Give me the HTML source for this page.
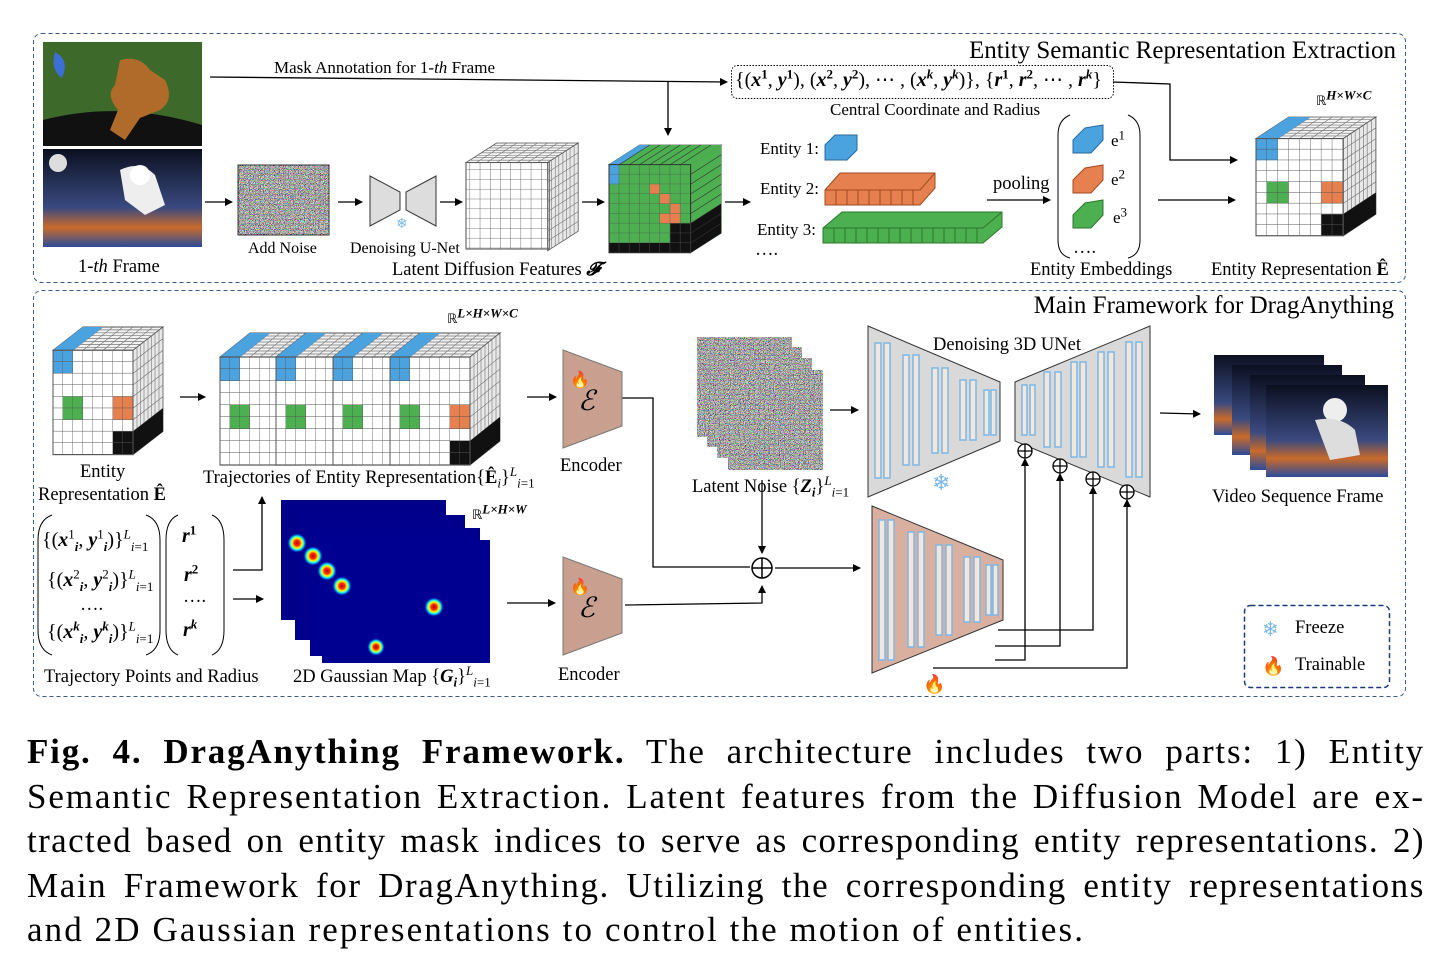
<!DOCTYPE html>
<html><head><meta charset="utf-8">
<style>
body{margin:0;width:1434px;height:960px;background:#fff;position:relative;overflow:hidden;font-family:"Liberation Serif",serif;color:#000}
.t{position:absolute;font-size:18.5px;white-space:nowrap;line-height:1}
.big{position:absolute;font-size:25px;white-space:nowrap;line-height:1}
.m{font-style:italic;font-weight:bold}
sup,sub{font-size:13px;line-height:0}
.cap{position:absolute;left:27px;width:1398px;font-size:35px;letter-spacing:2.1px;line-height:44.5px;text-align:justify;text-align-last:justify;white-space:nowrap}
</style></head><body>
<svg width="1434" height="700" style="position:absolute;left:0;top:0">
<defs>
<pattern id="g" width="10" height="10" patternUnits="userSpaceOnUse"><path d="M10 0V10H0" fill="none" stroke="#555" stroke-width="0.8"/></pattern>
<filter id="nz" x="0" y="0" width="100%" height="100%"><feTurbulence type="fractalNoise" baseFrequency="1.8" numOctaves="1" seed="3"/><feColorMatrix type="matrix" values="5 0 0 0 -2  0 5 0 0 -2  0 0 5 0 -2  0 0 0 0 1"/></filter>
<radialGradient id="gb"><stop offset="0" stop-color="#b00"/><stop offset="0.3" stop-color="#f30"/><stop offset="0.5" stop-color="#ff0"/><stop offset="0.7" stop-color="#0ef"/><stop offset="1" stop-color="#00c" stop-opacity="0"/></radialGradient>
<linearGradient id="sp" x1="0" y1="0" x2="0" y2="1"><stop offset="0" stop-color="#0b0f20"/><stop offset="0.6" stop-color="#3a4a80"/><stop offset="0.8" stop-color="#c96a2a"/><stop offset="1" stop-color="#2b4c9c"/></linearGradient>
<marker id="a" markerWidth="8" markerHeight="8" refX="7" refY="4" orient="auto" markerUnits="userSpaceOnUse"><path d="M0,0L8,4L0,8z"/></marker>
<g id="cube">
<rect x="0" y="20" width="80" height="90" fill="#fff"/>
<polygon points="0,20 30,0 110,0 80,20" fill="#f2f2f2" stroke="#555" stroke-width="0.8"/>
<polygon points="80,20 110,0 110,90 80,110" fill="#e8e8e8" stroke="#555" stroke-width="0.8"/>
<path d="M10,20L40,0M20,20L50,0M30,20L60,0M40,20L70,0M50,20L80,0M60,20L90,0M70,20L100,0M3.75,17.5H83.75M7.5,15H87.5M11.25,12.5H91.25M15,10H95M18.75,7.5H98.75M22.5,5H102.5M26.25,2.5H106.25M84,17.5V107.5M87.5,15V105M91,12.5V102.5M95,10V100M98.5,7.5V97.5M102,5V95M106,2.5V92.5M80,30L110,10M80,40L110,20M80,50L110,30M80,60L110,40M80,70L110,50M80,80L110,60M80,90L110,70M80,100L110,80" stroke="#777" stroke-width="0.6"/>
</g>
<g id="cells">
<polygon points="0,20 30,0 50,0 20,20" fill="#4aa3df"/>
<rect x="0" y="20" width="20" height="20" fill="#4aa3df"/>
<rect x="10" y="60" width="20" height="20" fill="#4caf50"/>
<rect x="60" y="60" width="20" height="20" fill="#e7804f"/>
<rect x="60" y="90" width="20" height="20" fill="#111"/>
<polygon points="80,90 110,70 110,90 80,110" fill="#111"/>
</g>
<g id="ecube"><use href="#cube"/><use href="#cells"/><rect x="0" y="20" width="80" height="90" fill="url(#g)" stroke="#555"/></g>
</defs>

<rect x="33.5" y="33.5" width="1372" height="249" rx="8" fill="none" stroke="#3a5a8a" stroke-dasharray="4,3"/>
<rect x="33.5" y="290.5" width="1372" height="406" rx="8" fill="none" stroke="#3a5a8a" stroke-dasharray="4,3"/>

<rect x="43" y="42" width="159" height="104" fill="#3d6a2a"/>
<path d="M43,120 Q120,100 202,125 V146 H43z" fill="#111"/>
<path d="M120,60 Q140,55 150,70 L165,80 Q175,100 160,110 L140,118 L125,140 L110,130 L118,110 Q105,95 115,85z" fill="#b06a2a"/>
<path d="M55,52 Q70,60 62,78 Q50,70 55,52z" fill="#3b6fd6"/>
<rect x="43" y="149" width="159" height="98" fill="url(#sp)"/>
<circle cx="58" cy="163" r="9" fill="#ddd"/>
<path d="M120,170 Q140,160 155,175 L165,205 L145,215 L125,200z" fill="#eee"/>
<circle cx="140" cy="175" r="10" fill="#fff"/>

<rect x="238" y="165" width="91" height="70" filter="url(#nz)"/>
<rect x="238" y="165" width="91" height="70" fill="none" stroke="#333"/>
<polygon points="370,176 400,192 400,210 370,226" fill="#ddd" stroke="#333"/>
<polygon points="436,176 406,192 406,210 436,226" fill="#ddd" stroke="#333"/>
<text x="396" y="228" font-size="14" fill="#7ab8e8">❄</text>

<use href="#cube" transform="translate(466,143) scale(1.02,0.98)"/>
<rect x="466" y="162.6" width="81.6" height="88.2" fill="url(#g)" stroke="#555" transform="translate(466,162.6) scale(1.02,0.98) translate(-466,-162.6)"/>
<g transform="translate(609,145) scale(1.02,0.98)">
<use href="#cube"/>
<rect x="0" y="20" width="80" height="90" fill="#4caf50"/>
<polygon points="0,20 30,0 110,0 80,20" fill="#4caf50"/>
<polygon points="80,20 110,0 110,90 80,110" fill="#4caf50"/>
<polygon points="0,20 30,0 40,0 10,20" fill="#4aa3df"/>
<rect x="0" y="20" width="10" height="20" fill="#4aa3df"/>
<path d="M40,40h10v10h10v10h10v10h-10v-10h-10v-10h-10z" fill="#e7804f"/>
<rect x="50" y="70" width="20" height="10" fill="#e7804f"/>
<rect x="0" y="100" width="80" height="10" fill="#111"/>
<rect x="60" y="80" width="20" height="20" fill="#111"/>
<polygon points="80,80 110,60 110,90 80,110" fill="#111"/>
<rect x="0" y="20" width="80" height="90" fill="url(#g)" stroke="#333"/>
<path d="M10,20L40,0M20,20L50,0M30,20L60,0M40,20L70,0M50,20L80,0M60,20L90,0M70,20L100,0M80,30L110,10M80,40L110,20M80,50L110,30M80,60L110,40M80,70L110,50M80,80L110,60M80,90L110,70M80,100L110,80" stroke="#333" stroke-width="0.6"/>
</g>

<g stroke="#000" stroke-width="1.3" fill="none" marker-end="url(#a)">
<path d="M205,202H232"/><path d="M338,202H362"/><path d="M440,202H462"/><path d="M582,202H604"/><path d="M725,202H750"/>
<path d="M210,77L727,82"/><path d="M668,82V135"/>
<path d="M987,200H1050"/><path d="M1158,200H1235"/>
<path d="M1113,82L1170,84V160H1237"/>
<path d="M180,397H205"/><path d="M527,397H556"/>
<path d="M622,398H653V567H750" marker-end="none"/>
<path d="M830,410H858"/><path d="M762,480V553"/><path d="M775,568H860"/>
<path d="M1160,413L1200,414"/>
<path d="M233,570H262V497"/><path d="M233,599H263"/>
<path d="M507,603H555"/>
<path d="M625,605L762,603V586"/>
<path d="M995,660H1025V459"/><path d="M995,646H1060V474"/><path d="M998,630H1093V487"/><path d="M933,668H1127V500"/>
</g>
<rect x="731.5" y="65.5" width="382" height="33" rx="6" fill="none" stroke="#000" stroke-dasharray="1.5,1.5"/>

<polygon points="825,145 835,135 857,135 857,150 847,160 825,160" fill="#4aa3df" stroke="#2a6a9a"/>
<g fill="#e7804f" stroke="#a04a20"><polygon points="825,190 840,173 935,173 935,188 920,205 825,205"/></g>
<path d="M836,190V205M847,190V205M858,190V205M869,190V205M880,190V205M891,190V205M902,190V205M913,190V205M825,190H920L935,173" stroke="#a04a20" fill="none"/>
<polygon points="823,228 842,212 1002,212 1002,227 983,243 823,243" fill="#4caf50" stroke="#2a7a2a"/>
<path d="M834,228V243M845,228V243M856,228V243M867,228V243M878,228V243M889,228V243M900,228V243M911,228V243M922,228V243M933,228V243M944,228V243M955,228V243M966,228V243M977,228V243M823,228H983L1002,212" stroke="#2a7a2a" fill="none"/>
<path d="M1070,115Q1058,120 1058,135V240Q1058,255 1070,258M1128,115Q1140,120 1140,135V240Q1140,255 1128,258" fill="none" stroke="#000"/>
<polygon points="1073,140 1085,128 1103,125 1103,140 1091,153 1073,153" fill="#4aa3df" stroke="#2a6a9a"/>
<polygon points="1073,180 1085,168 1103,165 1103,180 1091,193 1073,193" fill="#e7804f" stroke="#a04a20"/>
<polygon points="1073,215 1085,203 1103,200 1103,215 1091,228 1073,228" fill="#4caf50" stroke="#2a7a2a"/>

<use href="#ecube" transform="translate(1256,117) scale(1.09,1.08)"/>
<use href="#ecube" transform="translate(53,327) scale(1,1.16)"/>
<use href="#ecube" transform="translate(220,333) scale(1,1.2)"/>
<use href="#ecube" transform="translate(276,333) scale(1,1.2)"/>
<use href="#ecube" transform="translate(333,333) scale(1,1.2)"/>
<use href="#ecube" transform="translate(390,333) scale(1,1.2)"/>

<polygon points="563,350 622,372 622,426 563,448" fill="#c9a08f" stroke="#777"/>
<polygon points="563,557 622,579 622,633 563,655" fill="#c9a08f" stroke="#777"/>

<g><rect x="697" y="337" width="95" height="100" filter="url(#nz)"/><rect x="707" y="347" width="95" height="100" filter="url(#nz)"/><rect x="717" y="358" width="95" height="100" filter="url(#nz)"/><rect x="728" y="370" width="95" height="100" filter="url(#nz)"/></g>

<circle cx="762" cy="568" r="10" fill="#fff" stroke="#000" stroke-width="1.5"/><path d="M752,568H772M762,558V578" stroke="#000" stroke-width="1.5"/>

<polygon points="868,326 1000,382 1000,441 868,497" fill="#d9d9d9" stroke="#333"/>
<polygon points="1150,326 1015,382 1015,441 1150,497" fill="#d9d9d9" stroke="#333"/>
<polygon points="872,506 1003,560 1003,620 872,673" fill="#d9b0a0" stroke="#333"/>
<g fill="#f5e6dc" stroke="#7ab8e8" stroke-width="1.5">
<rect x="875" y="343" width="6" height="135"/><rect x="884" y="343" width="6" height="135"/><rect x="903" y="355" width="6" height="110"/><rect x="913" y="355" width="6" height="110"/><rect x="932" y="368" width="6" height="85"/><rect x="942" y="368" width="6" height="85"/><rect x="960" y="380" width="6" height="60"/><rect x="970" y="380" width="6" height="60"/><rect x="984" y="390" width="5" height="45"/><rect x="991" y="390" width="5" height="45"/>
<rect x="1022" y="385" width="5" height="50"/><rect x="1030" y="385" width="5" height="50"/><rect x="1044" y="372" width="6" height="75"/><rect x="1055" y="372" width="6" height="75"/><rect x="1071" y="362" width="6" height="95"/><rect x="1080" y="362" width="6" height="95"/><rect x="1098" y="352" width="6" height="115"/><rect x="1108" y="352" width="6" height="115"/><rect x="1126" y="342" width="6" height="135"/><rect x="1136" y="342" width="6" height="135"/>
<rect x="879" y="520" width="6" height="140"/><rect x="888" y="520" width="6" height="140"/><rect x="908" y="532" width="6" height="115"/><rect x="918" y="532" width="6" height="115"/><rect x="936" y="545" width="6" height="90"/><rect x="946" y="545" width="6" height="90"/><rect x="964" y="557" width="6" height="65"/><rect x="974" y="557" width="6" height="65"/><rect x="986" y="565" width="5" height="50"/><rect x="993" y="565" width="5" height="50"/>
</g>
<g fill="#fff" stroke="#000" stroke-width="1.3">
<circle cx="1025" cy="451" r="7"/><circle cx="1060" cy="466" r="7"/><circle cx="1093" cy="479" r="7"/><circle cx="1127" cy="492" r="7"/></g>
<path d="M1018,451h14M1025,444v14M1053,466h14M1060,459v14M1086,479h14M1093,472v14M1120,492h14M1127,485v14" stroke="#000" stroke-width="1.3"/>
<text x="932" y="490" font-size="22" fill="#7ab8e8">❄</text>
<text x="923" y="690" font-size="18" fill="#f06020">🔥</text>

<rect x="1214" y="355" width="110" height="80" fill="url(#sp)"/><rect x="1232" y="365" width="110" height="90" fill="url(#sp)"/><rect x="1250" y="375" width="115" height="95" fill="url(#sp)"/><rect x="1266" y="385" width="122" height="92" fill="url(#sp)"/>
<circle cx="1335" cy="410" r="12" fill="#eee"/><path d="M1315,420 Q1340,415 1355,430 L1360,455 L1330,460z" fill="#ddd"/>

<rect x="281" y="500" width="165" height="120" fill="#00008a"/><rect x="295" y="515" width="170" height="125" fill="#00008c"/><rect x="310" y="528" width="170" height="128" fill="#00008e"/><rect x="322" y="540" width="168" height="123" fill="#000090"/>
<g fill="url(#gb)"><circle cx="297" cy="543" r="10"/><circle cx="313" cy="556" r="10"/><circle cx="327" cy="571" r="10"/><circle cx="342" cy="586" r="10"/><circle cx="434" cy="607" r="10"/><circle cx="376" cy="647" r="9"/></g>

<path d="M52,515Q38,520 38,540V630Q38,650 52,655M146,515Q160,520 160,540V630Q160,650 146,655M178,515Q166,520 166,540V630Q166,650 178,655M212,515Q224,520 224,540V630Q224,650 212,655" fill="none" stroke="#000"/>
<rect x="1244.5" y="605.5" width="145" height="82" rx="6" fill="none" stroke="#1a3a7a" stroke-width="1.5" stroke-dasharray="5,3"/>
<text x="1262" y="636" font-size="20" fill="#7ab8e8">❄</text>
<text x="1262" y="672" font-size="18" fill="#f06020">🔥</text>
<text x="570" y="385" font-size="16" fill="#f06020">🔥</text>
<text x="570" y="592" font-size="16" fill="#f06020">🔥</text>
<text x="578" y="410" font-size="28" font-style="italic" font-family="Liberation Serif">ℰ</text>
<text x="578" y="617" font-size="28" font-style="italic" font-family="Liberation Serif">ℰ</text>
</svg>

<div class="big" style="right:38px;top:38px">Entity Semantic Representation Extraction</div>
<div class="big" style="right:40px;top:293px">Main Framework for DragAnything</div>
<div class="t" style="left:274px;top:59px;font-size:17px">Mask Annotation for 1-<i>th</i> Frame</div>
<div class="t" style="left:735px;top:70px;font-size:20px">{(<span class="m">x</span><sup><b>1</b></sup>, <span class="m">y</span><sup><b>1</b></sup>), (<span class="m">x</span><sup><b>2</b></sup>, <span class="m">y</span><sup><b>2</b></sup>), ⋯ , (<span class="m">x<sup>k</sup></span>, <span class="m">y<sup>k</sup></span>)}, {<span class="m">r</span><sup><b>1</b></sup>, <span class="m">r</span><sup><b>2</b></sup>, ⋯ , <span class="m">r<sup>k</sup></span>}</div>
<div class="t" style="left:830px;top:101px;font-size:17px">Central Coordinate and Radius</div>
<div class="t" style="left:78px;top:258px">1-<i>th</i> Frame</div>
<div class="t" style="left:248px;top:241px;font-size:16px">Add Noise</div>
<div class="t" style="left:350px;top:241px;font-size:16px">Denoising U-Net</div>
<div class="t" style="left:392px;top:261px">Latent Diffusion Features <i><b>𝓕</b></i></div>
<div class="t" style="left:760px;top:140px;font-size:17px">Entity 1:</div>
<div class="t" style="left:760px;top:180px;font-size:17px">Entity 2:</div>
<div class="t" style="left:757px;top:221px;font-size:17px">Entity 3:</div>
<div class="t" style="left:755px;top:241px">….</div>
<div class="t" style="left:993px;top:175px">pooling</div>
<div class="t" style="left:1111px;top:132px;font-size:17px">e<sup>1</sup></div>
<div class="t" style="left:1111px;top:171px;font-size:17px">e<sup>2</sup></div>
<div class="t" style="left:1113px;top:209px;font-size:17px">e<sup>3</sup></div>
<div class="t" style="left:1073px;top:239px">….</div>
<div class="t" style="left:1030px;top:261px">Entity Embeddings</div>
<div class="t" style="left:1211px;top:261px">Entity Representation <b>Ê</b></div>
<div class="t" style="left:1316px;top:94px;font-size:13px">ℝ<sup><i><b>H×W×C</b></i></sup></div>
<div class="t" style="left:447px;top:312px;font-size:13px">ℝ<sup><i><b>L×H×W×C</b></i></sup></div>
<div class="t" style="left:472px;top:508px;font-size:13px">ℝ<sup><i><b>L×H×W</b></i></sup></div>
<div class="t" style="left:80px;top:463px">Entity</div>
<div class="t" style="left:38px;top:486px">Representation <b>Ê</b></div>
<div class="t" style="left:203px;top:469px">Trajectories of Entity Representation{<b>Ê</b><sub><i>i</i></sub>}<sup><i>L</i></sup><sub><i>i</i>=1</sub></div>
<div class="t" style="left:560px;top:457px">Encoder</div>
<div class="t" style="left:558px;top:666px">Encoder</div>
<div class="t" style="left:692px;top:478px">Latent Noise {<span class="m">Z<sub>i</sub></span>}<sup><i>L</i></sup><sub><i>i</i>=1</sub></div>
<div class="t" style="left:933px;top:336px">Denoising 3D UNet</div>
<div class="t" style="left:1212px;top:488px">Video Sequence Frame</div>
<div class="t" style="left:44px;top:668px">Trajectory Points and Radius</div>
<div class="t" style="left:293px;top:668px">2D Gaussian Map {<span class="m">G<sub>i</sub></span>}<sup><i>L</i></sup><sub><i>i</i>=1</sub></div>
<div class="t" style="left:42px;top:530px;font-size:20px">{(<span class="m">x</span><sup>1</sup><sub class="m">i</sub>, <span class="m">y</span><sup>1</sup><sub class="m">i</sub>)}<sup><i>L</i></sup><sub><i>i</i>=1</sub></div>
<div class="t" style="left:47px;top:570px;font-size:20px">{(<span class="m">x</span><sup>2</sup><sub class="m">i</sub>, <span class="m">y</span><sup>2</sup><sub class="m">i</sub>)}<sup><i>L</i></sup><sub><i>i</i>=1</sub></div>
<div class="t" style="left:80px;top:596px">….</div>
<div class="t" style="left:47px;top:622px;font-size:20px">{(<span class="m">x<sup>k</sup><sub>i</sub></span>, <span class="m">y<sup>k</sup><sub>i</sub></span>)}<sup><i>L</i></sup><sub><i>i</i>=1</sub></div>
<div class="t" style="left:182px;top:526px;font-size:20px"><span class="m">r</span><sup><b>1</b></sup></div>
<div class="t" style="left:184px;top:565px;font-size:20px"><span class="m">r</span><sup><b>2</b></sup></div>
<div class="t" style="left:183px;top:588px">….</div>
<div class="t" style="left:183px;top:620px;font-size:20px"><span class="m">r<sup>k</sup></span></div>
<div class="t" style="left:1295px;top:619px">Freeze</div>
<div class="t" style="left:1295px;top:656px">Trainable</div>

<div class="cap" style="top:730px;letter-spacing:1.8px"><b>Fig. 4. DragAnything Framework.</b> The architecture includes two parts: 1) Entity</div>
<div class="cap" style="top:774.5px;letter-spacing:1.9px">Semantic Representation Extraction. Latent features from the Diffusion Model are ex-</div>
<div class="cap" style="top:819px;letter-spacing:1.4px">tracted based on entity mask indices to serve as corresponding entity representations. 2)</div>
<div class="cap" style="top:863.5px;letter-spacing:1.6px">Main Framework for DragAnything. Utilizing the corresponding entity representations</div>
<div class="cap" style="top:908px;text-align-last:left">and 2D Gaussian representations to control the motion of entities.</div>
</body></html>
